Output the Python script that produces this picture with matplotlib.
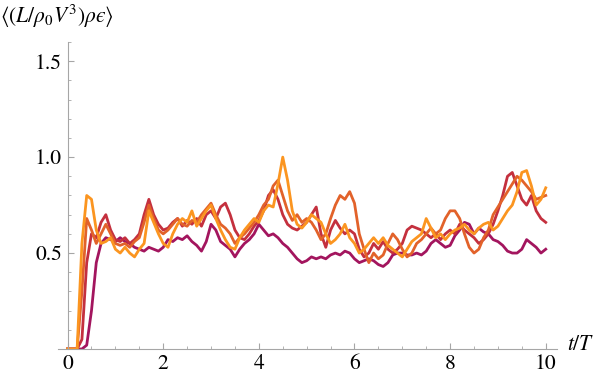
import numpy as np
import matplotlib
matplotlib.use("Agg")
import matplotlib.pyplot as plt
from matplotlib.ticker import MultipleLocator, FixedLocator

plt.rcParams['font.family'] = ['STIXGeneral', 'DejaVu Sans']
plt.rcParams['mathtext.fontset'] = 'stix'

# time samples (t/T), step 0.1
t = np.round(np.arange(0, 10.001, 0.1), 1)

# four runs
purple = [0, 0, 0, 0, 0.02, 0.2, 0.45, 0.55, 0.58, 0.57,
          0.56, 0.58, 0.56, 0.55, 0.53, 0.52, 0.51, 0.53, 0.52, 0.51,
          0.53, 0.57, 0.56, 0.58, 0.57, 0.59, 0.56, 0.54, 0.51, 0.56,
          0.65, 0.62, 0.56, 0.54, 0.52, 0.48, 0.52, 0.55, 0.57, 0.60,
          0.65, 0.62, 0.59, 0.60, 0.58, 0.55, 0.53, 0.50, 0.47, 0.45,
          0.46, 0.48, 0.47, 0.48, 0.47, 0.49, 0.50, 0.49, 0.51, 0.50,
          0.47, 0.45, 0.46, 0.47, 0.46, 0.44, 0.43, 0.45, 0.49, 0.50,
          0.50, 0.49, 0.49, 0.50, 0.49, 0.51, 0.55, 0.57, 0.55, 0.53,
          0.54, 0.59, 0.62, 0.66, 0.65, 0.60, 0.63, 0.61, 0.60, 0.57,
          0.56, 0.54, 0.51, 0.50, 0.50, 0.52, 0.57, 0.55, 0.53, 0.50,
          0.52]
crimson = [0, 0, 0, 0.05, 0.45, 0.60, 0.58, 0.66, 0.70, 0.62,
           0.57, 0.56, 0.58, 0.55, 0.57, 0.60, 0.70, 0.78, 0.70, 0.65,
           0.62, 0.63, 0.66, 0.68, 0.64, 0.67, 0.65, 0.68, 0.64, 0.70,
           0.72, 0.68, 0.74, 0.76, 0.70, 0.62, 0.58, 0.57, 0.60, 0.64,
           0.67, 0.72, 0.80, 0.83, 0.78, 0.70, 0.65, 0.63, 0.62, 0.64,
           0.66, 0.70, 0.74, 0.60, 0.53, 0.62, 0.67, 0.63, 0.60, 0.62,
           0.60, 0.52, 0.48, 0.50, 0.55, 0.52, 0.56, 0.52, 0.50, 0.52,
           0.55, 0.62, 0.64, 0.63, 0.62, 0.60, 0.58, 0.60, 0.57, 0.60,
           0.62, 0.60, 0.65, 0.62, 0.60, 0.58, 0.55, 0.57, 0.60, 0.65,
           0.72, 0.80, 0.90, 0.92, 0.85, 0.78, 0.75, 0.80, 0.72, 0.68,
           0.66]
darkorange = [0, 0, 0, 0.30, 0.68, 0.62, 0.55, 0.60, 0.65, 0.60,
              0.55, 0.54, 0.55, 0.53, 0.56, 0.58, 0.66, 0.75, 0.68, 0.62,
              0.60, 0.62, 0.65, 0.68, 0.65, 0.64, 0.67, 0.66, 0.70, 0.73,
              0.76, 0.70, 0.65, 0.63, 0.60, 0.55, 0.58, 0.60, 0.63, 0.66,
              0.70, 0.75, 0.78, 0.85, 0.88, 0.80, 0.72, 0.67, 0.70, 0.66,
              0.68, 0.66, 0.62, 0.57, 0.60, 0.68, 0.75, 0.80, 0.78, 0.82,
              0.76, 0.60, 0.52, 0.45, 0.50, 0.47, 0.49, 0.55, 0.60, 0.57,
              0.52, 0.48, 0.50, 0.55, 0.57, 0.60, 0.63, 0.60, 0.62, 0.68,
              0.72, 0.72, 0.68, 0.60, 0.53, 0.50, 0.52, 0.58, 0.62, 0.70,
              0.74, 0.78, 0.82, 0.86, 0.90, 0.88, 0.85, 0.82, 0.78, 0.79,
              0.80]
orange = [0, 0, 0, 0.55, 0.80, 0.78, 0.62, 0.55, 0.56, 0.58,
          0.52, 0.50, 0.53, 0.50, 0.48, 0.52, 0.55, 0.72, 0.66, 0.60,
          0.55, 0.53, 0.60, 0.65, 0.68, 0.66, 0.72, 0.64, 0.68, 0.72,
          0.75, 0.68, 0.62, 0.57, 0.53, 0.52, 0.58, 0.62, 0.65, 0.68,
          0.66, 0.72, 0.75, 0.74, 0.86, 1.00, 0.88, 0.72, 0.65, 0.63,
          0.66, 0.70, 0.68, 0.66, 0.60, 0.55, 0.57, 0.60, 0.65, 0.58,
          0.55, 0.50, 0.52, 0.55, 0.58, 0.55, 0.58, 0.54, 0.52, 0.50,
          0.48, 0.52, 0.56, 0.58, 0.60, 0.68, 0.63, 0.58, 0.60, 0.57,
          0.60, 0.62, 0.63, 0.65, 0.62, 0.60, 0.63, 0.65, 0.66, 0.62,
          0.64, 0.68, 0.72, 0.75, 0.82, 0.92, 0.93, 0.85, 0.75, 0.78,
          0.84]

series = [purple, crimson, darkorange, orange]
colors = ['#a3155e', '#c4303e', '#e2622a', '#fb9520']

fig = plt.figure(figsize=(6, 3.79), dpi=100)
ax = fig.add_axes([0.0967, 0.0792, 0.832, 0.81])

for ys, c in zip(series, colors):
    ax.plot(t, ys, color=c, lw=2.0, solid_joinstyle='round')

ax.set_xlim(-0.2, 10.24)
ax.set_ylim(0, 1.6)

# mathematica style axes through the origin
ax.spines['top'].set_visible(False)
ax.spines['right'].set_visible(False)
ax.spines['left'].set_position(('data', 0))
ax.spines['bottom'].set_position(('data', 0))
for s in ['left', 'bottom']:
    ax.spines[s].set_color('#a6a6a6')
    ax.spines[s].set_linewidth(0.8)

ax.xaxis.set_major_locator(FixedLocator([0, 2, 4, 6, 8, 10]))
ax.xaxis.set_minor_locator(MultipleLocator(0.5))
ax.yaxis.set_major_locator(FixedLocator([0.5, 1.0, 1.5]))
ax.yaxis.set_minor_locator(MultipleLocator(0.1))
ax.set_yticklabels(['0.5', '1.0', '1.5'])

ax.tick_params(which='both', direction='in', color='#a6a6a6', labelsize=15.5)
ax.tick_params(which='major', length=4.5, width=0.8)
ax.tick_params(which='minor', length=2.2, width=0.6)
ax.tick_params(axis='y', pad=4)
ax.tick_params(axis='x', pad=4)

fig.text(0.0, 1 - 16 / 379, r'$\langle(L/\rho_0 V^3)\rho$' + '$\u03f5$' + r'$\rangle$',
         ha='left', va='center', fontsize=15.5)
fig.text(567 / 600, 1 - 345 / 379, r'$t/T$', ha='left', va='center', fontsize=15.5)

fig.savefig('out.png', dpi=100)
